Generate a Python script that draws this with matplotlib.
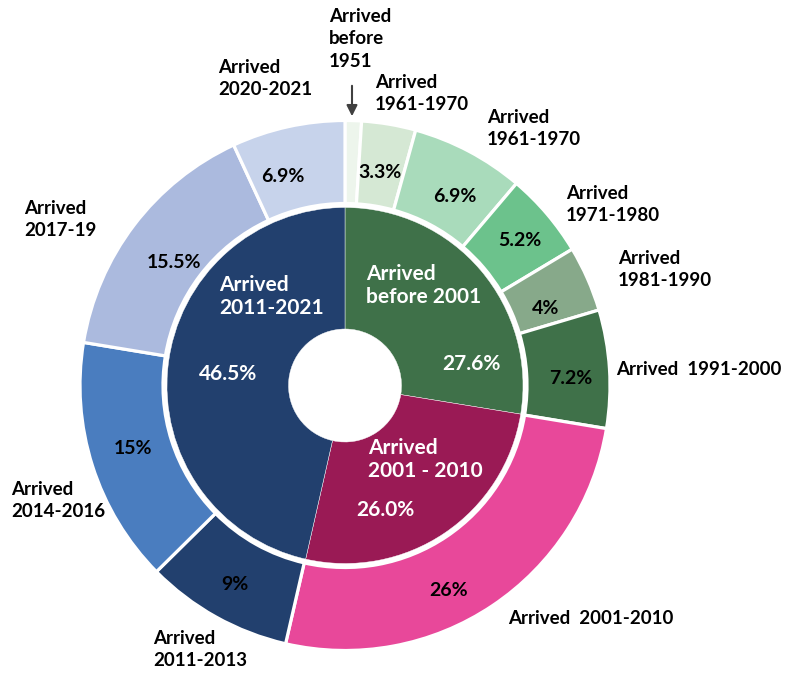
import matplotlib
matplotlib.use("Agg")
import matplotlib.pyplot as plt

plt.rcParams["font.family"] = ["Lato", "DejaVu Sans"]
plt.rcParams["font.weight"] = "bold"

W, H = 788, 676

# inner ring: broad arrival periods
inner_labels = ["Arrived\nbefore 2001", "Arrived\n2001 - 2010", "Arrived\n2011-2021"]
inner_values = [27.6, 26.0, 46.5]
inner_pct = ["27.6%", "26.0%", "46.5%"]
inner_colors = ["#3f7149", "#9a1a55", "#22406e"]

# outer ring: detailed arrival periods
outer_labels = [
    "Arrived\nbefore\n1951",
    "Arrived\n1961-1970",
    "Arrived\n1961-1970",
    "Arrived\n1971-1980",
    "Arrived\n1981-1990",
    "Arrived  1991-2000",
    "Arrived  2001-2010",
    "Arrived\n2011-2013",
    "Arrived\n2014-2016",
    "Arrived\n2017-19",
    "Arrived\n2020-2021",
]
outer_values = [1.0, 3.3, 6.9, 5.2, 4.0, 7.2, 26.0, 9.0, 15.0, 15.5, 6.9]
outer_pct = ["", "3.3%", "6.9%", "5.2%", "4%", "7.2%", "26%", "9%", "15%", "15.5%", "6.9%"]
outer_colors = [
    "#edf5ec", "#d5e8d4", "#a9dbbb", "#6cc28c", "#87a98a", "#3f7149",
    "#e8489a", "#22406e", "#4a7dbf", "#abbade", "#c7d3eb",
]


def py(y):
    # image rows (top-down) to axis coords (bottom-up)
    return H - y


fig = plt.figure(figsize=(W / 100, H / 100), dpi=100)
ax = fig.add_axes([0, 0, 1, 1])

cx, cy = 345, py(385.5)

ax.pie(
    outer_values,
    colors=outer_colors,
    startangle=90,
    counterclock=False,
    radius=265,
    center=(cx, cy),
    wedgeprops=dict(width=83, edgecolor="white", linewidth=2.3),
)
ax.pie(
    inner_values,
    colors=inner_colors,
    startangle=90,
    counterclock=False,
    radius=178,
    center=(cx, cy),
    wedgeprops=dict(width=121.5, edgecolor="white", linewidth=0.3),
)

ax.set_xlim(0, W)
ax.set_ylim(0, H)
ax.set_aspect("equal")
ax.axis("off")

# outer category labels (x, top y)
outer_label_pos = [
    (329, 8), (375, 74), (487, 109), (566, 185), (618, 250),
    (616, 361), (508, 610), (153, 630), (11, 481), (24, 200), (218, 59),
]
for text, (x, y) in zip(outer_labels, outer_label_pos):
    ax.text(x, py(y), text, ha="left", va="top", fontsize=13.5,
            fontweight="bold", color="black", linespacing=1.39)

# arrow for the tiny before-1951 slice
ax.annotate("", xy=(352, py(119)), xytext=(352, py(83)),
            arrowprops=dict(arrowstyle="-|>", color="#404040", lw=1.5,
                            mutation_scale=16))

# outer percentages (centre positions)
outer_pct_pos = [
    (0, 0), (380, 172), (455, 196), (520, 241), (546, 309), (571, 379),
    (449, 591), (235, 584), (133, 449), (174, 263), (283, 177),
]
for text, (x, y) in zip(outer_pct, outer_pct_pos):
    if text:
        ax.text(x, py(y), text, ha="center", va="center", fontsize=14,
                fontweight="bold", color="black")

# inner category labels and percentages
inner_label_pos = [(366, 264), (368, 438), (219, 275)]
for text, (x, y) in zip(inner_labels, inner_label_pos):
    ax.text(x, py(y), text, ha="left", va="top", fontsize=15,
            fontweight="bold", color="white", linespacing=1.2)

inner_pct_pos = [(471, 364), (385, 510), (228, 374)]
for text, (x, y) in zip(inner_pct, inner_pct_pos):
    ax.text(x, py(y), text, ha="center", va="center", fontsize=15,
            fontweight="bold", color="white")

fig.savefig("out.png", dpi=100)
